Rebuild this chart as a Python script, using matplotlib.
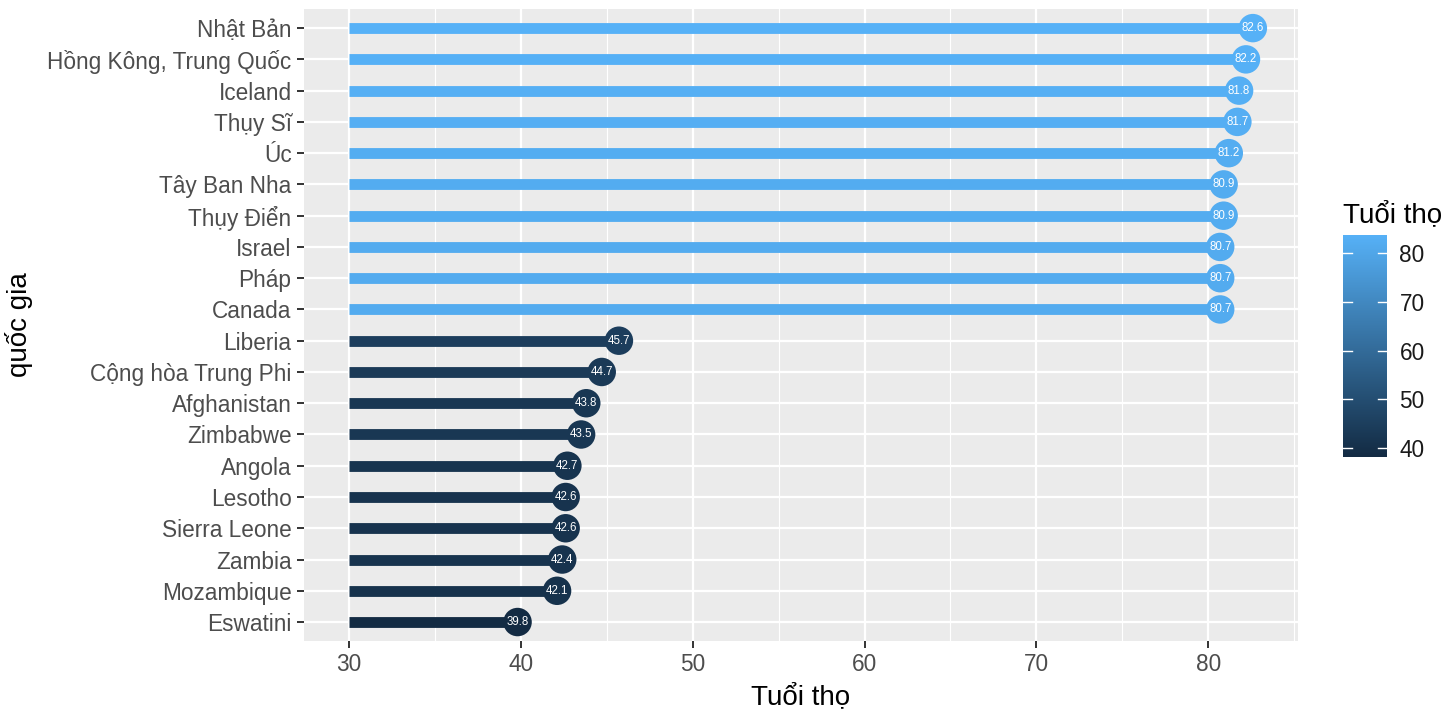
import matplotlib
matplotlib.use("Agg")
import matplotlib.pyplot as plt
import numpy as np
from matplotlib.colors import LinearSegmentedColormap, Normalize
from matplotlib.ticker import MultipleLocator

countries = ["Nhật Bản", "Hồng Kông, Trung Quốc", "Iceland", "Thụy Sĩ", "Úc",
             "Tây Ban Nha", "Thụy Điển", "Israel", "Pháp", "Canada",
             "Liberia", "Cộng hòa Trung Phi", "Afghanistan", "Zimbabwe", "Angola",
             "Lesotho", "Sierra Leone", "Zambia", "Mozambique", "Eswatini"]
life_exp = [82.6, 82.2, 81.8, 81.7, 81.2, 80.9, 80.9, 80.7, 80.7, 80.7,
            45.7, 44.7, 43.8, 43.5, 42.7, 42.6, 42.6, 42.4, 42.1, 39.8]
x_ticks = [30, 40, 50, 60, 70, 80]
cbar_ticks = [40, 50, 60, 70, 80]

plt.rcParams['font.family'] = ['Liberation Sans', 'DejaVu Sans']

cmap = LinearSegmentedColormap.from_list("gg", ["#132B43", "#56B1F7"])
norm = Normalize(vmin=min(life_exp), vmax=max(life_exp))

fig = plt.figure(figsize=(14.56, 7.2), dpi=100)
ax = fig.add_axes([0.2088, 0.110, 0.6827, 0.877])
ax.set_facecolor("#EBEBEB")

n = len(countries)
ypos = np.arange(n)[::-1]

start = 30
for y, v in zip(ypos, life_exp):
    c = cmap(norm(v))
    ax.plot([start, v], [y, y], color=c, linewidth=7.8, solid_capstyle='butt', zorder=3)
ax.scatter(life_exp, ypos, s=420, c=[cmap(norm(v)) for v in life_exp], zorder=4, linewidths=0)
for y, v in zip(ypos, life_exp):
    ax.text(v, y, f"{v:.1f}", color="white", fontsize=8.3, ha="center", va="center", zorder=5)

lo, hi = 30, max(life_exp)
pad = (hi - lo) * 0.05
ax.set_xlim(lo - pad, hi + pad)
ax.set_ylim(-0.6, n - 1 + 0.6)
ax.set_yticks(ypos)
ax.set_yticklabels(countries)
ax.set_xticks(x_ticks)
ax.xaxis.set_minor_locator(MultipleLocator(5))

ax.grid(True, which="major", color="white", linewidth=1.6, zorder=0)
ax.grid(True, which="minor", axis="x", color="white", linewidth=0.8, zorder=0)
ax.set_axisbelow(True)
for s in ax.spines.values():
    s.set_visible(False)
ax.tick_params(axis="both", which="major", length=5, width=1.4, color="#333333",
               labelsize=16.3, labelcolor="#4D4D4D", pad=4)
ax.tick_params(axis="both", which="minor", length=0)

ax.set_xlabel("Tuổi thọ", fontsize=20, color="black", labelpad=5)
ax.set_ylabel("quốc gia", fontsize=20, color="black", labelpad=10)

# colorbar
cax = fig.add_axes([1343 / 1456, 1 - 457 / 720, 44 / 1456, 222 / 720])
cb_lo, cb_hi = 38.15, 83.7
grad = np.linspace(norm.vmin, norm.vmax, 256).reshape(-1, 1)
cax.imshow(grad, aspect="auto", cmap=cmap, norm=norm, origin="lower",
           extent=[0, 1, cb_lo, cb_hi])
cax.set_xlim(0, 1)
cax.set_ylim(cb_lo, cb_hi)
for t in cbar_ticks:
    cax.plot([0, 0.2], [t, t], color="white", linewidth=1.0)
    cax.plot([0.8, 1], [t, t], color="white", linewidth=1.0)
cax.set_xticks([])
cax.yaxis.tick_right()
cax.set_yticks(cbar_ticks)
cax.tick_params(axis="y", length=0, labelsize=16.3, labelcolor="#1A1A1A", pad=9)
for s in cax.spines.values():
    s.set_visible(False)
fig.text(1343 / 1456, 1 - 222 / 720, "Tuổi thọ", fontsize=20, color="black",
         ha="left", va="baseline")

fig.savefig("out.png", dpi=100)
